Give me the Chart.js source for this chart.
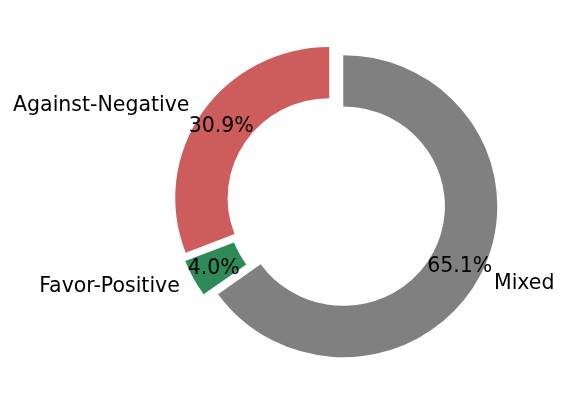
<!DOCTYPE html>
<html>
<head>
<meta charset="utf-8">
<script src="https://cdn.jsdelivr.net/npm/chart.js@4.4.1/dist/chart.umd.min.js"></script>
<style>
  html, body { margin: 0; padding: 0; background: #ffffff; }
  #wrap { width: 567px; height: 407px; }
</style>
</head>
<body>
<div id="wrap"><canvas id="donut" width="567" height="407"></canvas></div>
<script>
// data, clockwise from 12 o'clock
const categories = ["Mixed", "Favor-Positive", "Against-Negative"];
const shares = [65.1, 4.0, 30.9];
const sliceColors = ["#808080", "#2e8b57", "#cd5c5c"];

// look
const EXPLODE = 8;        // px each wedge is pushed out along its middle
const ASPECT = 1.02;      // the original is a touch wider than tall
const LABEL_DIST = 1.1;
const PCT_DIST = 0.85;
const FONT = '20.5px "DejaVu Sans", sans-serif';
const TEXT_SHIFT = 1.5;   // matplotlib centres the box incl. descent

const explodePlugin =
{
	id: "explode",
	beforeDatasetDraw(chart, args)
	{
		const ctx = chart.ctx;
		args.meta.data.forEach(arc =>
		{
			const mid = (arc.startAngle + arc.endAngle) / 2;
			ctx.save();
			ctx.translate(arc.x + Math.cos(mid) * EXPLODE * ASPECT, arc.y + Math.sin(mid) * EXPLODE);
			ctx.scale(ASPECT, 1);
			ctx.translate(-arc.x, -arc.y);
			arc.draw(ctx);
			ctx.restore();
		});
		return false;
	},
	afterDatasetsDraw(chart)
	{
		const ctx = chart.ctx;
		const arcs = chart.getDatasetMeta(0).data;
		ctx.save();
		ctx.font = FONT;
		ctx.fillStyle = "#000000";
		ctx.textBaseline = "middle";
		arcs.forEach((arc, i) =>
		{
			const mid = (arc.startAngle + arc.endAngle) / 2;
			const c = Math.cos(mid), s = Math.sin(mid);
			const cx = arc.x + c * EXPLODE * ASPECT;
			const cy = arc.y + s * EXPLODE + TEXT_SHIFT;
			const r = arc.outerRadius;

			ctx.textAlign = c > 0 ? "left" : "right";
			ctx.fillText(categories[i], cx + c * r * LABEL_DIST * ASPECT, cy + s * r * LABEL_DIST);

			ctx.textAlign = "center";
			ctx.fillText(shares[i].toFixed(1) + "%", cx + c * r * PCT_DIST * ASPECT, cy + s * r * PCT_DIST);
		});
		ctx.restore();
	}
};

new Chart(document.getElementById("donut"),
{
	type: "doughnut",
	data:
	{
		labels: categories,
		datasets:
		[
			{
				data: shares,
				backgroundColor: sliceColors,
				borderWidth: 0,
				hoverOffset: 0
			}
		]
	},
	options:
	{
		responsive: false,
		animation: false,
		events: [],
		radius: 151,
		cutout: "66%",
		layout: { padding: { left: 105, right: 0, top: 0, bottom: 2 } },
		plugins:
		{
			legend: { display: false },
			tooltip: { enabled: false }
		}
	},
	plugins: [explodePlugin]
});
</script>
</body>
</html>
